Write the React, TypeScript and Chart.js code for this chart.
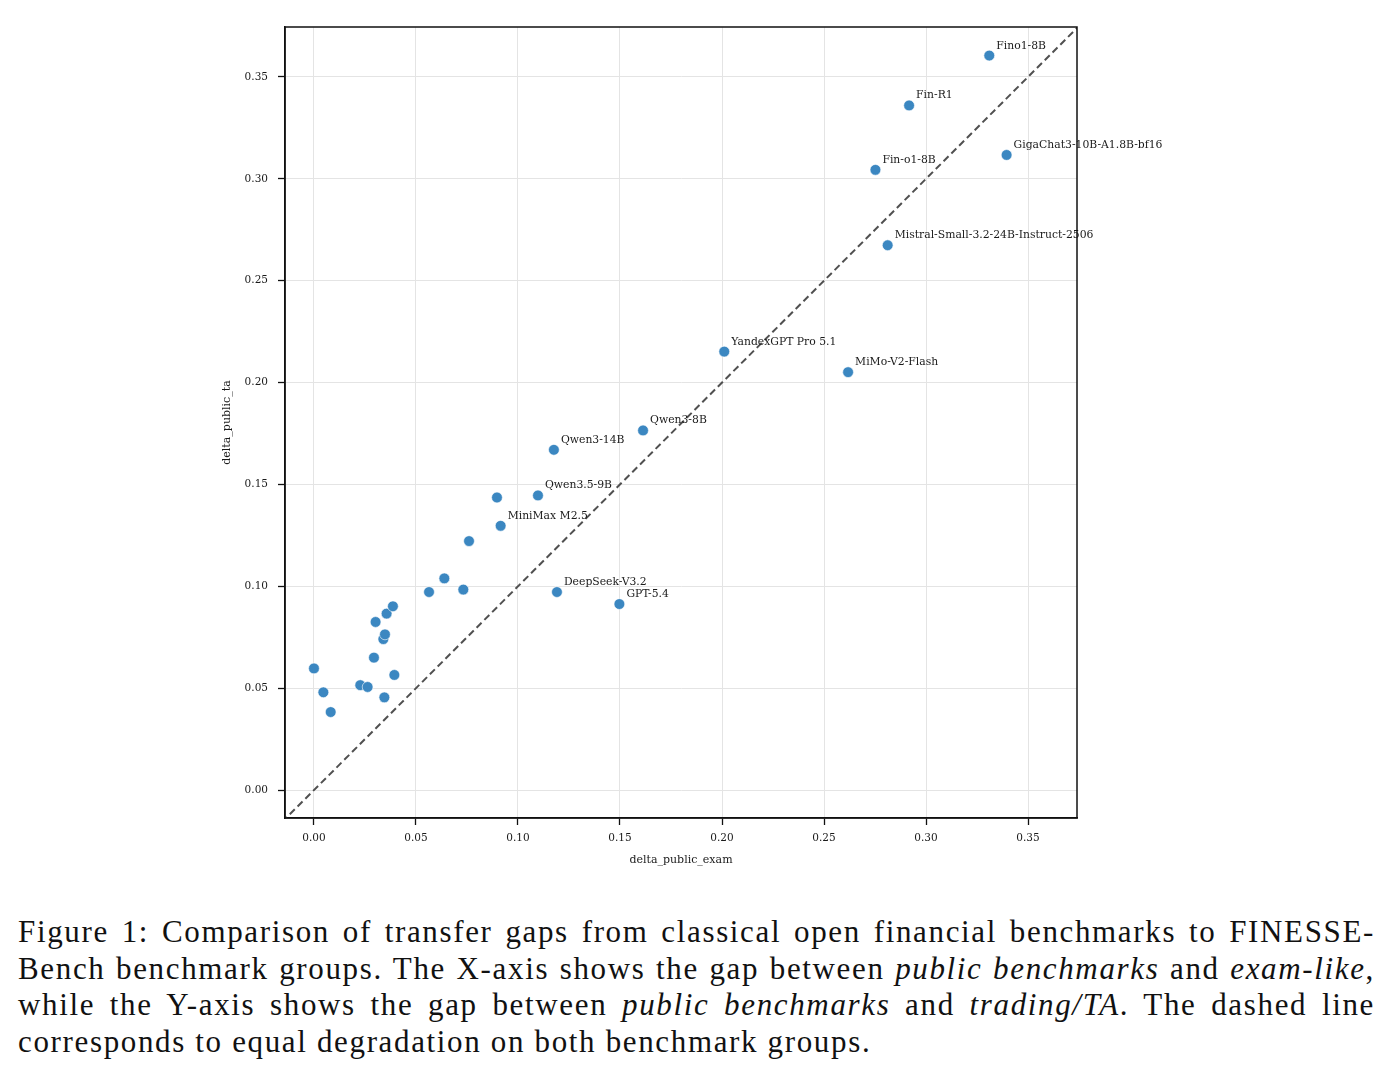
import React, { useEffect, useRef } from "react";
import { Chart, registerables } from "chart.js";

Chart.register(...registerables);

const modelNames: string[] = [
  "", "", "", "", "", "", "", "", "", "", "", "", "", "", "", "", "", "",
  "MiniMax M2.5", "Qwen3.5-9B", "Qwen3-14B", "Qwen3-8B", "DeepSeek-V3.2", "GPT-5.4",
  "YandexGPT Pro 5.1", "MiMo-V2-Flash", "Mistral-Small-3.2-24B-Instruct-2506",
  "Fin-o1-8B", "Fin-R1", "Fino1-8B", "GigaChat3-10B-A1.8B-bf16",
];
const deltaPublicExam: number[] = [
  0.0, 0.0046, 0.0082, 0.0227, 0.0263, 0.0345, 0.0394, 0.0294, 0.034, 0.0348,
  0.0302, 0.0356, 0.0387, 0.0564, 0.0639, 0.0732, 0.076, 0.0897,
  0.0915, 0.1098, 0.1176, 0.1613, 0.1191, 0.1497, 0.2011, 0.2618, 0.2812,
  0.2752, 0.2917, 0.331, 0.3395,
];
const deltaPublicTa: number[] = [
  0.0597, 0.048, 0.0383, 0.0515, 0.0506, 0.0455, 0.0565, 0.065, 0.0741, 0.0764,
  0.0825, 0.0866, 0.0902, 0.0972, 0.1039, 0.0984, 0.1222, 0.1436,
  0.1297, 0.1446, 0.167, 0.1765, 0.0972, 0.0913, 0.2152, 0.2051, 0.2674,
  0.3044, 0.336, 0.3605, 0.3117,
];
const tickValues: number[] = [0, 0.05, 0.1, 0.15, 0.2, 0.25, 0.3, 0.35];
const xRange: number[] = [-0.0142, 0.374];
const yRange: number[] = [-0.0137, 0.3745];
const diagonal: number[] = [-0.05, 0.45];

const SERIF = "'DejaVu Serif', serif";

const captionLines: React.ReactNode[] = [
  <>Figure 1: Comparison of transfer gaps from classical open financial benchmarks to FINESSE-</>,
  <>Bench benchmark groups. The X-axis shows the gap between <i>public benchmarks</i> and <i>exam-like</i>,</>,
  <>while the Y-axis shows the gap between <i>public benchmarks</i> and <i>trading/TA</i>. The dashed line</>,
  <>corresponds to equal degradation on both benchmark groups.</>,
];

const overlayPlugin = {
  id: "overlay",
  afterDatasetsDraw(chart: any) {
    const { ctx } = chart;
    const meta = chart.getDatasetMeta(1);
    ctx.save();
    ctx.font = `10.8px ${SERIF}`;
    ctx.fillStyle = "#1a1a1a";
    ctx.textAlign = "left";
    ctx.textBaseline = "alphabetic";
    meta.data.forEach((el: any, i: number) => {
      const name = modelNames[i];
      if (!name) return;
      ctx.fillText(name, el.x + 7, el.y - 7);
    });
    ctx.restore();
  },
  afterDraw(chart: any) {
    const { ctx, chartArea } = chart;
    ctx.save();
    ctx.strokeStyle = "#111";
    ctx.lineWidth = 1.5;
    ctx.strokeRect(chartArea.left, chartArea.top, chartArea.right - chartArea.left, chartArea.bottom - chartArea.top);
    ctx.restore();
  },
};

export default function App() {
  const ref = useRef<HTMLCanvasElement | null>(null);
  useEffect(() => {
    if (!ref.current) return;
    const points = deltaPublicExam.map((x, i) => ({ x, y: deltaPublicTa[i] }));
    const tickFont = { family: SERIF, size: 10.5 };
    const chart = new Chart(ref.current, {
      type: "scatter",
      data: {
        datasets: [
          {
            type: "line",
            data: diagonal.map((v) => ({ x: v, y: v })),
            borderColor: "#505050",
            borderWidth: 2,
            borderDash: [7, 4],
            pointRadius: 0,
            fill: false,
            order: 2,
          } as any,
          {
            data: points,
            backgroundColor: "#3b87c1",
            borderColor: "#ffffff",
            borderWidth: 0.6,
            pointRadius: 5.4,
            order: 1,
          },
        ],
      },
      options: {
        animation: false,
        responsive: false,
        devicePixelRatio: 1,
        events: [],
        layout: { padding: { top: 19, right: 306, left: 0, bottom: 0 } },
        plugins: { legend: { display: false }, tooltip: { enabled: false } },
        scales: {
          x: {
            type: "linear",
            min: xRange[0],
            max: xRange[1],
            afterFit: (s: any) => { s.height = 70; },
            afterBuildTicks: (s: any) => { s.ticks = tickValues.map((v) => ({ value: v })); },
            ticks: { font: tickFont, color: "#1a1a1a", padding: 7, callback: (v: any) => Number(v).toFixed(2) },
            grid: { color: "#e4e4e4", lineWidth: 1, tickColor: "#111", tickLength: 7, tickWidth: 1.3 },
            border: { color: "#111", width: 1.5 },
            title: { display: true, text: "delta_public_exam", font: { family: SERIF, size: 11 }, color: "#1a1a1a", padding: { bottom: 21 } },
          },
          y: {
            type: "linear",
            min: yRange[0],
            max: yRange[1],
            afterFit: (s: any) => { s.width = 277; },
            afterBuildTicks: (s: any) => { s.ticks = tickValues.map((v) => ({ value: v })); },
            ticks: { font: tickFont, color: "#1a1a1a", padding: 10, callback: (v: any) => Number(v).toFixed(2) },
            grid: { color: "#e4e4e4", lineWidth: 1, tickColor: "#111", tickLength: 7, tickWidth: 1.3 },
            border: { color: "#111", width: 1.5 },
            title: { display: true, text: "delta_public_ta", font: { family: SERIF, size: 11 }, color: "#1a1a1a", padding: { top: 213 } },
          },
        },
      },
      plugins: [overlayPlugin],
    });
    return () => chart.destroy();
  }, []);

  return (
    <div style={{ position: "relative", width: 1375, height: 1070 }}>
      <canvas ref={ref} width={1375} height={880} style={{ display: "block", width: 1375, height: 880 }} />
      <div
        style={{
          position: "absolute",
          left: 10,
          top: 906,
          width: 1357,
          fontFamily: "'Liberation Serif', serif",
          fontSize: 31,
          letterSpacing: "1.65px",
          lineHeight: "36.5px",
          color: "#111",
        }}
      >
        {captionLines.map((line, i) => (
          <div
            key={i}
            style={{
              textAlign: i < captionLines.length - 1 ? "justify" : "left",
              textAlignLast: i < captionLines.length - 1 ? "justify" : "left",
              whiteSpace: "nowrap",
            }}
          >
            {line}
          </div>
        ))}
      </div>
    </div>
  );
}
